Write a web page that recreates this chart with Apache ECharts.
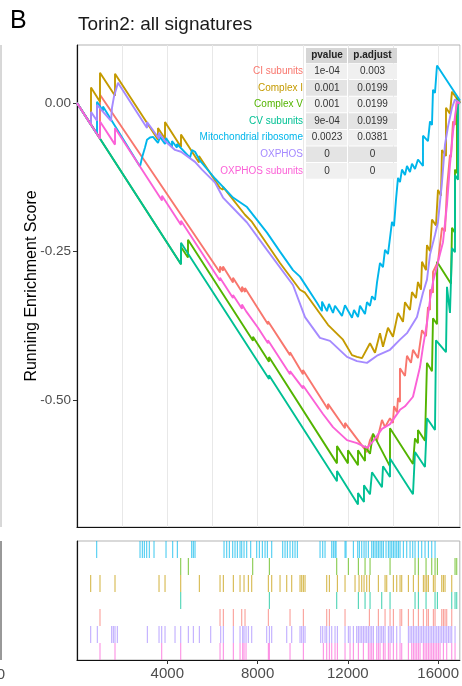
<!DOCTYPE html>
<html><head><meta charset="utf-8">
<script src="https://cdn.jsdelivr.net/npm/echarts@6/dist/echarts.min.js"></script>
<style>html,body{margin:0;padding:0;background:#fff}#c{width:462px;height:686px}</style>
</head><body><div id="c"></div>
<script>
// ---- data ----
const setNames = ['CI subunits','Complex I','Complex V','CV subunits','Mitochondrial ribosome','OXPHOS','OXPHOS subunits'];
const setColors = ['#F8766D','#C49A00','#53B400','#00C094','#00B6EB','#A58AFF','#FB61D7'];
const pvalues = ['1e-04','0.001','0.001','9e-04','0.0023','0','0'];
const padjust = ['0.003','0.0199','0.0199','0.0199','0.0381','0','0'];
const rugOrder = ['Mitochondrial ribosome','Complex V','Complex I','CV subunits','CI subunits','OXPHOS','OXPHOS subunits'];
const xTicks = [4000, 8000, 12000, 16000];
const yTicks = [-0.5, -0.25, 0];
const xMax = 16960;

const esCIsub = [[0,0],[1018,-0.059],[1018,0.014],[6332,-0.285],[6332,-0.275],[6465,-0.282],[6465,-0.275],[6908,-0.302],[6908,-0.294],[7306,-0.318],[7306,-0.309],[7439,-0.318],[7439,-0.311],[8457,-0.372],[8457,-0.367],[9432,-0.424],[9432,-0.419],[10007,-0.456],[10007,-0.449],[11114,-0.515],[11114,-0.506],[11867,-0.547],[11867,-0.538],[12841,-0.587],[12974,-0.567],[13107,-0.557],[13284,-0.568],[13505,-0.533],[13638,-0.545],[13860,-0.530],[13992,-0.538],[14037,-0.510],[14170,-0.520],[14214,-0.496],[14302,-0.503],[14302,-0.446],[14524,-0.459],[14612,-0.425],[14790,-0.437],[14878,-0.415],[15099,-0.429],[15277,-0.382],[15454,-0.392],[15542,-0.343],[15631,-0.348],[15631,-0.314],[15764,-0.319],[15764,-0.284],[15985,-0.267],[16162,-0.210],[16295,-0.216],[16384,-0.143],[16428,-0.146],[16516,-0.087],[16561,-0.091],[16650,-0.031],[16738,-0.037],[16826,0.009],[16960,0.002]];
const esComplexI = [[0,0],[620,-0.037],[620,0.026],[1018,0.002],[1018,0.051],[1683,0.012],[1683,0.049],[3587,-0.062],[3587,-0.042],[3897,-0.060],[3897,-0.032],[4605,-0.074],[4605,-0.053],[5402,-0.100],[5402,-0.089],[6332,-0.143],[6465,-0.146],[6465,-0.141],[7439,-0.188],[7749,-0.200],[8989,-0.269],[9874,-0.314],[10096,-0.319],[11114,-0.373],[11778,-0.398],[12177,-0.424],[12398,-0.427],[12620,-0.429],[12974,-0.404],[13196,-0.420],[13417,-0.387],[13550,-0.410],[13771,-0.378],[13992,-0.393],[14214,-0.353],[14435,-0.368],[14524,-0.335],[14745,-0.348],[14834,-0.318],[15011,-0.328],[15099,-0.301],[15232,-0.314],[15277,-0.267],[15454,-0.281],[15498,-0.239],[15631,-0.249],[15719,-0.196],[15897,-0.206],[15985,-0.146],[16118,-0.156],[16162,-0.079],[16340,-0.089],[16340,-0.008],[16516,-0.018],[16605,0.019],[16960,0.000]];
const esComplexV = [[0,0],[4605,-0.271],[4605,-0.242],[4915,-0.260],[4915,-0.230],[7793,-0.400],[7793,-0.393],[8502,-0.435],[8502,-0.427],[11513,-0.606],[11513,-0.577],[12000,-0.606],[12000,-0.584],[12443,-0.609],[12443,-0.584],[12753,-0.602],[12753,-0.577],[12974,-0.590],[13107,-0.556],[13860,-0.611],[13860,-0.547],[14878,-0.607],[14967,-0.564],[15099,-0.572],[15099,-0.550],[15409,-0.568],[15498,-0.437],[15719,-0.451],[15764,-0.362],[15941,-0.372],[15941,-0.267],[16561,-0.304],[16605,-0.210],[16738,-0.218],[16738,-0.112],[16826,-0.118],[16826,0.009],[16960,0.000]];
const esCVsub = [[0,0],[4605,-0.271],[4605,-0.235],[8502,-0.464],[8502,-0.458],[11513,-0.636],[11513,-0.619],[12443,-0.675],[12443,-0.656],[12708,-0.671],[12708,-0.643],[12974,-0.658],[13063,-0.621],[13505,-0.646],[13550,-0.611],[13860,-0.629],[13860,-0.598],[14878,-0.658],[14967,-0.587],[15409,-0.612],[15498,-0.530],[15852,-0.550],[15897,-0.399],[16340,-0.419],[16384,-0.309],[16516,-0.353],[16605,-0.244],[16738,-0.251],[16738,-0.121],[16871,-0.129],[16871,0.002],[16960,-0.001]];
const esMito = [[0,0],[886,-0.052],[886,0.002],[1151,-0.013],[1151,-0.006],[2790,-0.107],[2878,-0.092],[3011,-0.075],[3100,-0.062],[3232,-0.058],[3365,-0.057],[3587,-0.067],[3675,-0.057],[3897,-0.069],[3941,-0.059],[4207,-0.074],[4207,-0.064],[4428,-0.075],[4428,-0.069],[5004,-0.092],[5092,-0.079],[5225,-0.082],[5446,-0.097],[6111,-0.127],[6465,-0.141],[6908,-0.159],[7528,-0.175],[8413,-0.218],[8989,-0.250],[9564,-0.281],[9874,-0.292],[10627,-0.336],[10849,-0.350],[10849,-0.334],[11070,-0.350],[11158,-0.338],[11336,-0.353],[11424,-0.341],[11734,-0.358],[11867,-0.340],[12177,-0.361],[12266,-0.348],[12443,-0.360],[12531,-0.341],[12753,-0.355],[12841,-0.335],[12974,-0.341],[13063,-0.325],[13196,-0.331],[13284,-0.302],[13417,-0.269],[13550,-0.276],[13638,-0.247],[13771,-0.254],[13948,-0.200],[14037,-0.207],[14125,-0.163],[14214,-0.126],[14302,-0.133],[14391,-0.112],[14524,-0.121],[14612,-0.106],[14745,-0.116],[14834,-0.102],[14967,-0.111],[15099,-0.095],[15321,-0.106],[15321,-0.055],[15542,-0.064],[15631,-0.031],[15719,-0.037],[15764,0.022],[15852,0.017],[15941,0.063],[16960,0.004]];
const esOXPHOS = [[0,0],[620,-0.037],[620,-0.015],[886,-0.030],[886,-0.003],[1506,-0.030],[1550,-0.008],[1594,-0.011],[1639,0.011],[1815,0.034],[3100,-0.042],[3100,-0.032],[3631,-0.060],[3631,-0.050],[3897,-0.064],[4339,-0.079],[4605,-0.082],[5225,-0.099],[5535,-0.112],[6111,-0.134],[6465,-0.159],[7528,-0.201],[8413,-0.247],[9564,-0.306],[10096,-0.360],[10760,-0.395],[11203,-0.400],[11956,-0.427],[12398,-0.434],[12841,-0.437],[13284,-0.425],[13860,-0.415],[14302,-0.398],[14612,-0.387],[15055,-0.360],[15321,-0.319],[15498,-0.297],[15631,-0.255],[15852,-0.222],[15985,-0.200],[16162,-0.133],[16295,-0.070],[16428,-0.040],[16605,-0.008],[16738,0.006],[16960,0.000]];
const esOXsub = [[0,0],[1018,-0.060],[1018,-0.031],[1683,-0.070],[1683,-0.042],[3764,-0.164],[3764,-0.156],[4605,-0.205],[4605,-0.198],[6332,-0.299],[6332,-0.294],[6908,-0.328],[6908,-0.323],[7306,-0.346],[7306,-0.339],[7484,-0.350],[8015,-0.378],[8457,-0.404],[8457,-0.399],[9432,-0.456],[9432,-0.451],[10007,-0.480],[10007,-0.475],[10893,-0.523],[11336,-0.545],[11956,-0.567],[12398,-0.572],[12841,-0.580],[13107,-0.569],[13505,-0.548],[13860,-0.540],[14302,-0.516],[14524,-0.510],[14878,-0.494],[15188,-0.444],[15321,-0.410],[15498,-0.370],[15631,-0.331],[15764,-0.301],[15985,-0.267],[16207,-0.234],[16384,-0.171],[16516,-0.104],[16650,-0.048],[16826,0.002],[16960,-0.001]];

const hitsMito = [872,2792,2895,2984,3087,3205,3412,3944,4239,4446,5081,5155,5229,6514,6632,6750,6898,7001,7105,7223,7297,7400,7518,7695,7961,8079,8212,8331,8434,8626,9113,9217,9320,9438,9556,9660,9763,10768,10886,10989,11285,11358,11432,11477,11875,11920,12245,12437,12510,12614,12717,12806,12909,13057,13131,13205,13279,13352,13426,13500,13574,13692,13795,13869,13943,14017,14091,14165,14239,14312,14460,14608,14756,14874,14977,15125,15272,15420,15568,15716,15863];
const hitsComplexV = [4594,4933,7784,8523,11506,12023,12466,12762,12983,13869,14977,15125,15464,15716,15863,15967,16749,16823];
const hitsComplexI = [606,1019,1684,3634,3900,4594,5421,6337,6484,6927,7223,7400,7592,7740,8478,8626,8995,9291,9512,9881,9955,10029,10103,11063,11181,11536,11875,12318,12496,12614,12717,12835,12954,13352,13648,13722,14017,14165,14312,14386,14682,14903,15125,15346,15420,15494,15568,15789,15863,16159,16233,16306,16602];
const hitsCVsub = [4594,8523,11506,12466,12762,12983,13500,13869,14977,15125,15464,15863,15967,16602,16749,16823];
const hitsCIsub = [1019,6337,6484,6927,7297,7444,8478,9438,10029,11063,11181,11875,12954,13352,13648,13869,14017,14312,14386,14682,14903,15125,15346,15494,15568,15789,15863,16159,16233,16306,16380,16602];
const hitsOXPHOS = [606,901,1536,1610,1684,1787,3117,3634,3752,3900,4343,4594,4933,5155,5421,5923,6366,6484,6927,7223,7341,7400,7489,7592,7740,8404,8523,8626,9291,9512,9881,9955,10029,10103,10797,10886,10989,11063,11181,11285,11432,11536,11875,12023,12097,12245,12392,12466,12540,12614,12688,12762,12835,12909,12983,13057,13131,13279,13352,13426,13500,13574,13648,13795,13869,13943,14017,14165,14312,14682,14756,14829,14903,14977,15051,15125,15199,15272,15346,15420,15494,15568,15642,15716,15789,15863,15937,16011,16085,16159,16233,16306,16380,16454,16528,16602,16749];
const hitsOXsub = [1019,1684,3752,4594,6337,6484,6927,7223,7341,7400,7489,8478,8523,9438,10029,10915,11063,11181,11285,11432,11536,11875,12097,12245,12466,12688,12909,12983,13057,13131,13279,13352,13426,13574,13648,13795,13869,14017,14165,14312,14386,14682,14829,14903,14977,15051,15125,15199,15346,15420,15494,15568,15642,15716,15789,15863,15937,16011,16085,16233,16380,16602,16749];

const esBySet = [esCIsub, esComplexI, esComplexV, esCVsub, esMito, esOXPHOS, esOXsub];
const hitsBySet = [hitsCIsub, hitsComplexI, hitsComplexV, hitsCVsub, hitsMito, hitsOXPHOS, hitsOXsub];

// ---- chart ----
const FONT = '"Liberation Sans", Arial, sans-serif';
const chart = echarts.init(document.getElementById('c'), null, {renderer: 'canvas'});

const series = [];
setNames.forEach((n, i) => {
  series.push({
    type: 'line', name: n, xAxisIndex: 0, yAxisIndex: 0, data: esBySet[i],
    showSymbol: false, symbol: 'none', lineStyle: {color: setColors[i], width: 1.9},
    z: 3 + i, silent: true
  });
});
setNames.forEach((n, i) => {
  const row = rugOrder.indexOf(n);
  const col = setColors[i];
  series.push({
    type: 'custom', xAxisIndex: 1, yAxisIndex: 1, silent: true,
    data: hitsBySet[i].map(h => [h, row]),
    renderItem: (params, api) => {
      const x = api.value(0), r = api.value(1);
      const p1 = api.coord([x, 7 - r]);
      const p2 = api.coord([x, 6 - r]);
      return {type: 'line', shape: {x1: p1[0], y1: p1[1], x2: p2[0], y2: p2[1]},
              style: {stroke: col, lineWidth: 1.1, opacity: 0.7}};
    }
  });
});

// table graphics
const g = [];
const tX = [306, 348, 397];
const tTop = 48, hH = 15, rH = 16.6;
g.push({type:'rect', shape:{x:tX[0], y:tTop, width:tX[1]-tX[0]-1, height:hH}, style:{fill:'#d6d6d6'}, z:100});
g.push({type:'rect', shape:{x:tX[1], y:tTop, width:tX[2]-tX[1], height:hH}, style:{fill:'#d6d6d6'}, z:100});
g.push({type:'text', x:(tX[0]+tX[1])/2, y:tTop+hH/2, style:{text:'pvalue', font:'bold 10px '+FONT, fill:'#222', align:'center', verticalAlign:'middle'}, z:101});
g.push({type:'text', x:(tX[1]+tX[2])/2, y:tTop+hH/2, style:{text:'p.adjust', font:'bold 10px '+FONT, fill:'#222', align:'center', verticalAlign:'middle'}, z:101});
setNames.forEach((n, i) => {
  const y0 = tTop + hH + i * rH;
  const fill = i % 2 === 0 ? '#f0f0f0' : '#e4e4e4';
  g.push({type:'rect', shape:{x:tX[0], y:y0+0.5, width:tX[1]-tX[0]-1, height:rH-1}, style:{fill:fill}, z:100});
  g.push({type:'rect', shape:{x:tX[1], y:y0+0.5, width:tX[2]-tX[1], height:rH-1}, style:{fill:fill}, z:100});
  g.push({type:'text', x:303, y:y0+rH/2, style:{text:n, font:'10px '+FONT, fill:setColors[i], align:'right', verticalAlign:'middle'}, z:101});
  g.push({type:'text', x:(tX[0]+tX[1])/2, y:y0+rH/2, style:{text:pvalues[i], font:'10px '+FONT, fill:'#333', align:'center', verticalAlign:'middle'}, z:101});
  g.push({type:'text', x:(tX[1]+tX[2])/2, y:y0+rH/2, style:{text:padjust[i], font:'10px '+FONT, fill:'#333', align:'center', verticalAlign:'middle'}, z:101});
});
// titles
g.push({type:'text', x:10, y:34, style:{text:'B', font:'25px '+FONT, fill:'#000', verticalAlign:'bottom'}, z:100});
g.push({type:'text', x:78, y:34, style:{text:'Torin2: all signatures', font:'19px '+FONT, fill:'#1a1a1a', verticalAlign:'bottom'}, z:100});
g.push({type:'text', x:32, y:286, rotation:Math.PI/2, style:{text:'Running Enrichment Score', font:'16px '+FONT, fill:'#000', align:'center', verticalAlign:'middle'}, z:100});
// fragments of neighbouring panel at the left edge
g.push({type:'line', shape:{x1:1, y1:45, x2:1, y2:527}, style:{stroke:'#b0b0b0', lineWidth:1}, z:100});
g.push({type:'line', shape:{x1:1, y1:541, x2:1, y2:660}, style:{stroke:'#333', lineWidth:1}, z:100});
g.push({type:'text', x:5, y:675, style:{text:'0', font:'15px '+FONT, fill:'#4d4d4d', align:'right', verticalAlign:'middle'}, z:100});

const option = {
  animation: false,
  backgroundColor: '#fff',
  textStyle: {fontFamily: FONT},
  grid: [
    {left: 77, right: 2, top: 45, height: 482, show: true, borderColor: '#b3b3b3', borderWidth: 1, backgroundColor: '#fff'},
    {left: 77, right: 2, top: 541, height: 119, show: true, borderColor: '#b3b3b3', borderWidth: 1, backgroundColor: '#fff'}
  ],
  xAxis: [
    {type: 'value', gridIndex: 0, min: 0, max: xMax, interval: 2000,
     axisLine: {show: true, onZero: false, lineStyle: {color: '#111', width: 1.2}},
     axisTick: {show: false}, axisLabel: {show: false},
     splitLine: {show: true, lineStyle: {color: '#e8e8e8', width: 1}}},
    {type: 'value', gridIndex: 1, min: 0, max: xMax, interval: 2000,
     axisLine: {show: true, onZero: false, lineStyle: {color: '#111', width: 1.2}},
     axisTick: {show: true, length: 4, lineStyle: {color: '#333'}, customValues: xTicks},
     axisLabel: {show: true, customValues: xTicks, margin: 6, fontSize: 15, color: '#4d4d4d', fontFamily: FONT,
                 formatter: v => String(v)},
     splitLine: {show: false}}
  ],
  yAxis: [
    {type: 'value', gridIndex: 0, min: -0.713, max: 0.0975,
     axisLine: {show: true, onZero: false, lineStyle: {color: '#111', width: 1.2}},
     axisTick: {show: true, length: 4, lineStyle: {color: '#333'}, customValues: yTicks},
     axisLabel: {show: true, customValues: yTicks, margin: 6, fontSize: 13.5, color: '#4d4d4d', fontFamily: FONT,
                 formatter: v => v.toFixed(2)},
     splitLine: {show: false}},
    {type: 'value', gridIndex: 1, min: 0, max: 7,
     axisLine: {show: true, onZero: false, lineStyle: {color: '#111', width: 1.2}},
     axisTick: {show: false}, axisLabel: {show: false}, splitLine: {show: false}}
  ],
  series: series,
  graphic: g
};
chart.setOption(option);
</script>
</body></html>
